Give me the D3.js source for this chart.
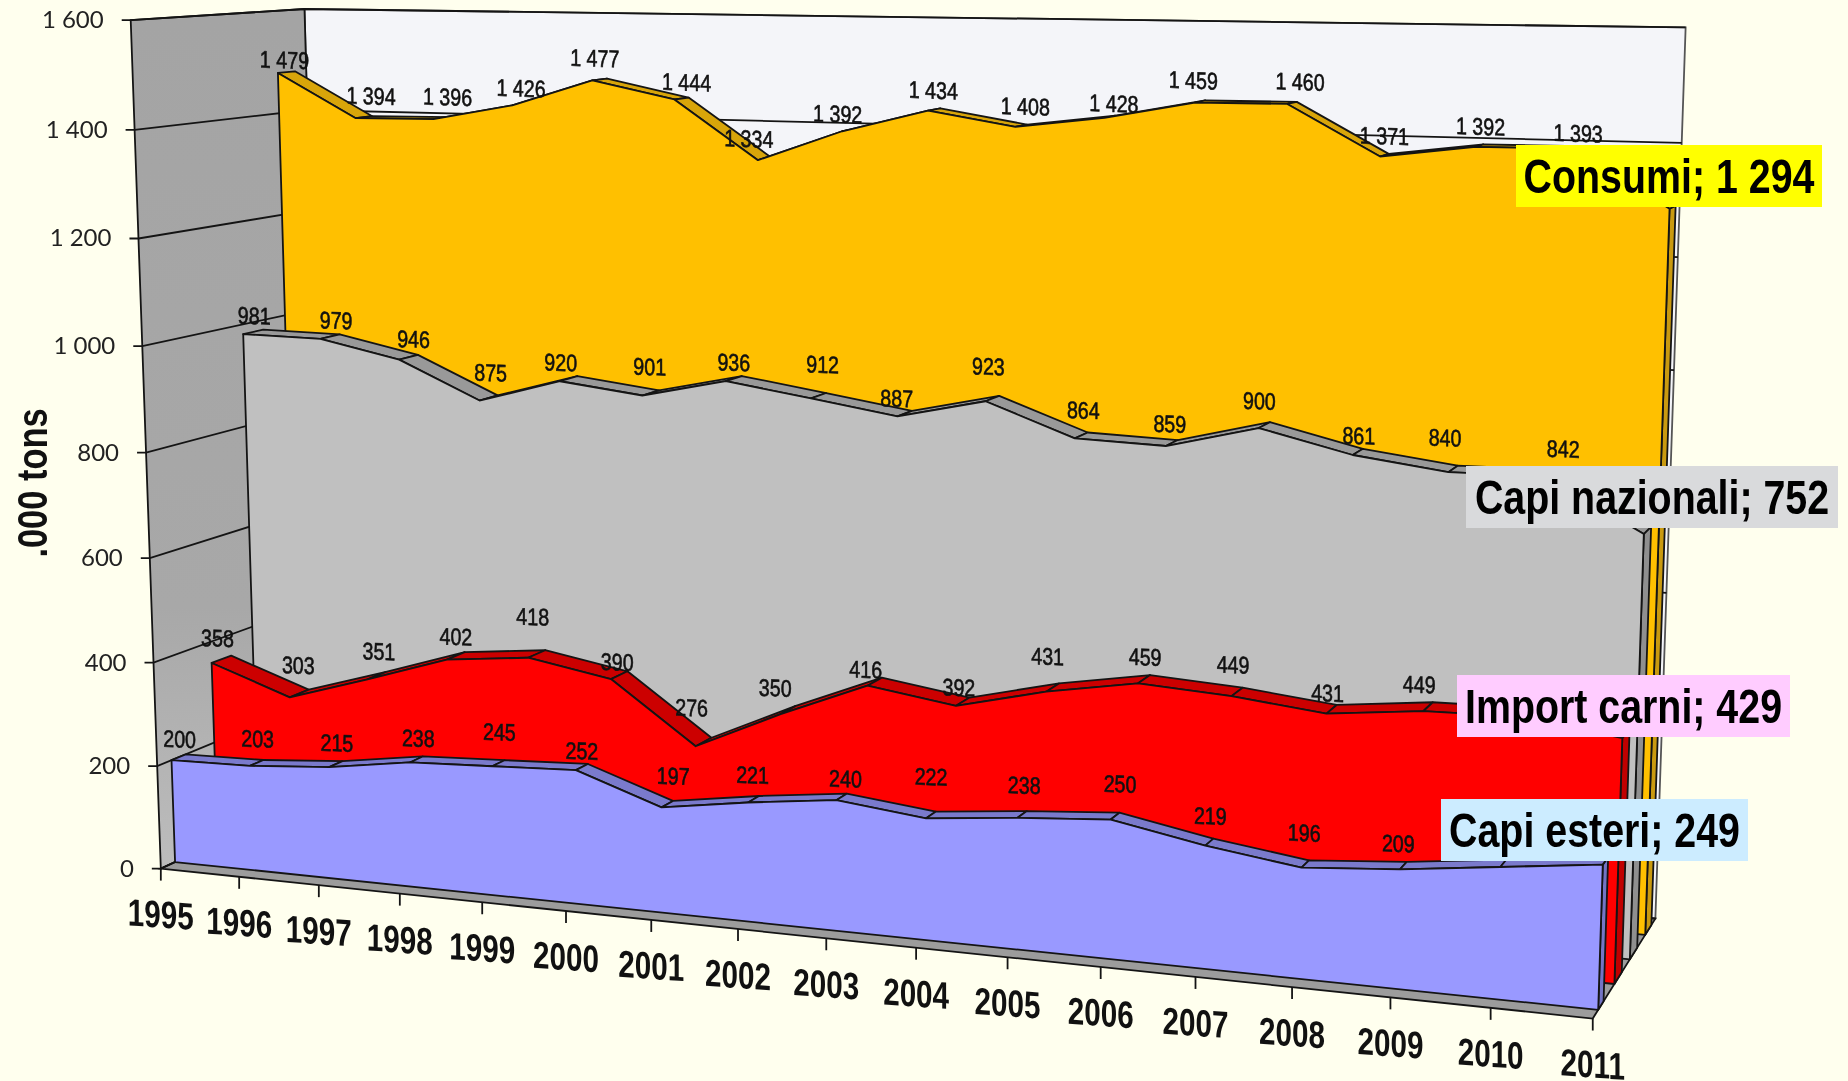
<!DOCTYPE html>
<html><head><meta charset="utf-8">
<style>html,body{margin:0;padding:0;background:#ffffee;overflow:hidden}svg{display:block;filter:blur(.45px)}</style>
<script src="https://cdn.jsdelivr.net/npm/d3@7"></script></head><body>
<svg id="c" width="1848" height="1081"></svg>
<script>
const years=[1995,1996,1997,1998,1999,2000,2001,2002,2003,2004,2005,2006,2007,2008,2009,2010,2011];
const consumi=[1479,1394,1396,1426,1477,1444,1334,1392,1434,1408,1428,1459,1460,1371,1392,1393,1294];
const capiNazionali=[981,979,946,875,920,901,936,912,887,923,864,859,900,861,840,842,752];
const importCarni=[358,303,351,402,418,390,276,350,416,392,431,459,449,431,449,452,429];
const capiEsteri=[200,203,215,238,245,252,197,221,240,222,238,250,219,196,209,229,249];
const valueTicks=[0,200,400,600,800,1000,1200,1400,1600];

// layout only: hand-placed label shifts of the original chart, year by year
const nudgeConsumi=[[-2,8],[7,-1],[6,-1],[1,4],[-5,-1],[5,4],[-16,0],[-11,4],[-1,1],[4,1],[4,7],[-7,-1],[8,-1],[0,1],[1,1],[2,6]];
const nudgeNazionali=[[1,4],[6,4],[5,2],[2,-5],[-8,4],[-1,-6],[0,4],[4,-11],[-8,5],[-4,-12],[2,-5],[-2,1],[-5,-4],[1,4],[-8,-11],[13,-4]];
const nudgeImport=[[-4,-1],[-1,-8],[2,-4],[0,1],[-4,-17],[-2,7],[-12,-14],[-13,-2],[-9,8],[-4,6],[-5,-11],[1,-2],[-4,-7],[-4,4],[-9,-2],[0,-5]];
const nudgeEsteri=[[1,2],[1,-4],[1,-1],[2,-1],[1,-11],[0,4],[6,-8],[-1,-4],[4,2],[0,-18],[2,-9],[5,-12],[1,-6],[-1,-11],[-5,-2],[0,0]];

const u=d3.scalePoint(years,[0,1]);
const v=d3.scaleLinear([0,1600],[0,1]);
// calibration of the 3D frame: unit-cube corner -> picture position
const frame=[
[0,0,0,161,867],[1,0,0,1594.6,1018],[0,1,0,130.5,21],[0,1,1,303.7,8.3],[1,1,1,1686,28],[1,0,1,1655,917],[0,0,1,327,794],
[1/16,0,0,239,877],[2/16,0,0,318.5,886],[3/16,0,0,399,895],[4/16,0,0,482,903],[5/16,0,0,566,912],[6/16,0,0,651.5,920],[14/16,0,0,1389.5,998],[15/16,0,0,1489.8,1008],
[0,.875,0,134.4,130],[0,.75,0,139,239],[0,.625,0,143,345],[0,.125,0,157.4,763]];
function solve(pts){
  const n=11,A=d3.range(n).map(()=>new Array(n+1).fill(0));
  const add=(r,b)=>{for(let i=0;i<n;i++){for(let j=0;j<n;j++)A[i][j]+=r[i]*r[j];A[i][n]+=r[i]*b;}};
  pts.forEach(([a,b,c,x,y])=>{const X=x/1000,Y=y/1000;
    add([a,b,c,1,0,0,0,0,-X*a,-X*b,-X*c],X);
    add([0,0,0,0,a,b,c,1,-Y*a,-Y*b,-Y*c],Y);});
  for(let i=0;i<n;i++){let m=i;for(let k=i+1;k<n;k++)if(Math.abs(A[k][i])>Math.abs(A[m][i]))m=k;[A[i],A[m]]=[A[m],A[i]];
    for(let k=0;k<n;k++){if(k===i)continue;const f=A[k][i]/A[i][i];for(let j=i;j<=n;j++)A[k][j]-=f*A[i][j];}}
  return A.map((r,i)=>r[n]/r[i]);
}
const P=solve(frame);
function pr(a,b,c){const d=P[8]*a+P[9]*b+P[10]*c+1;return [1000*(P[0]*a+P[1]*b+P[2]*c+P[3])/d,1000*(P[4]*a+P[5]*b+P[6]*c+P[7])/d];}
const pt=(yr,val,w)=>pr(u(yr),v(val),w);

const series=[
 {name:"Consumi",vals:consumi,nudge:nudgeConsumi,front:"#FFC000",top:"#D8A50A",side:"#C99A10",w0:.825,w1:.93,dy:-11.8},
 {name:"Capi nazionali",vals:capiNazionali,nudge:nudgeNazionali,front:"#C0C0C0",top:"#999999",side:"#8f8f8f",w0:.57,w1:.69,dy:-11.8},
 {name:"Import carni",vals:importCarni,nudge:nudgeImport,front:"#FF0000",top:"#CC0000",side:"#C00000",w0:.325,w1:.44,dy:-11.8},
 {name:"Capi esteri",vals:capiEsteri,nudge:nudgeEsteri,front:"#9999FF",top:"#7A7ACC",side:"#7474C4",w0:.08,w1:.16,dy:-11.8}];
const endLabels=[
 {t:"Consumi; 1 294",bg:"#FFFF00",x0:1516,x1:1822,y0:145,y1:207},
 {t:"Capi nazionali; 752",bg:"#D9DADC",x0:1466,x1:1838,y0:466,y1:528},
 {t:"Import carni; 429",bg:"#FFCCFF",x0:1457,x1:1790,y0:675,y1:737},
 {t:"Capi esteri; 249",bg:"#CCECFF",x0:1441,x1:1748,y0:799,y1:861}];

const svg=d3.select("#c");
const defs=svg.append("defs");
const g=defs.append("linearGradient").attr("id","wall").attr("gradientUnits","userSpaceOnUse").attr("x1",0).attr("x2",0).attr("y1",20).attr("y2",860);
g.append("stop").attr("offset",0).attr("stop-color","#a4a4a4");
g.append("stop").attr("offset",.7).attr("stop-color","#a8a8a8");
g.append("stop").attr("offset",1).attr("stop-color","#bcbcbc");
const line=d3.line();
const poly=(pts)=>line(pts)+"Z";
const ink="#141414";
const fmt=d3.formatLocale({decimal:",",thousands:" ",grouping:[3],currency:["",""]}).format(",d");
const yr0=years[0],yr1=years[years.length-1],vMax=valueTicks[valueTicks.length-1];

// walls and floor
svg.append("path").attr("d",poly([pt(yr0,0,1),pt(yr1,0,1),pt(yr1,vMax,1),pt(yr0,vMax,1)])).attr("fill","#f4f5f9").attr("stroke","#555").attr("stroke-width",1.8);
svg.append("path").attr("d",poly([pt(yr0,0,0),pt(yr0,0,1),pt(yr0,vMax,1),pt(yr0,vMax,0)])).attr("fill","url(#wall)").attr("stroke",ink).attr("stroke-width",1.8);
svg.append("path").attr("d",poly([pt(yr0,0,0),pt(yr1,0,0),pt(yr1,0,1),pt(yr0,0,1)])).attr("fill","#9c9c9c").attr("stroke",ink).attr("stroke-width",1.8);
// gridlines and value ticks
const grid=svg.append("g").attr("fill","none").attr("stroke",ink).attr("stroke-width",1.8);
grid.selectAll("path.g").data(valueTicks).join("path").attr("class","g")
 .attr("d",d=>{const a=pt(yr0,d,0),b=pt(yr0,d,1),c=pt(yr1,d,1);return line([[a[0]-9,a[1]],a,b,c]);});
grid.selectAll("path.t").data(years).join("path").attr("class","t")
 .attr("d",d=>{const a=pt(d,0,0);return line([a,[a[0],a[1]+12]]);});
svg.append("g").selectAll("text").data(valueTicks).join("text")
 .attr("x",d=>pt(yr0,d,0)[0]-27).attr("y",d=>pt(yr0,d,0)[1]+8)
 .attr("text-anchor","end").attr("font-family","Lato").attr("font-size",24).attr("fill","#222").text(fmt);

// series, back to front
series.forEach(s=>{
  const gr=svg.append("g").attr("stroke",ink).attr("stroke-width",1.8).attr("stroke-linejoin","round");
  const last=s.vals[s.vals.length-1];
  gr.append("path").attr("d",poly([pt(yr1,0,s.w0),pt(yr1,0,s.w1),pt(yr1,last,s.w1),pt(yr1,last,s.w0)])).attr("fill",s.side);
  gr.selectAll("path.top").data(d3.pairs(s.vals.map((d,i)=>[years[i],d]))).join("path").attr("class","top")
    .attr("d",([a,b])=>poly([pt(a[0],a[1],s.w0),pt(b[0],b[1],s.w0),pt(b[0],b[1],s.w1),pt(a[0],a[1],s.w1)])).attr("fill",s.top);
  const top=s.vals.map((d,i)=>pt(years[i],d,s.w0));
  gr.append("path").attr("d",poly([pt(yr0,0,s.w0),...top,pt(yr1,0,s.w0)])).attr("fill",s.front);
});
// data labels (the last year is carried by the end labels)
series.forEach(s=>{
  svg.append("g").selectAll("text").data(s.nudge.map((n,i)=>({yr:years[i],val:s.vals[i],n}))).join("text")
   .attr("transform",d=>{const p=pt(d.yr,d.val,(s.w0+s.w1)/2);return `translate(${p[0]+d.n[0]},${p[1]+s.dy+d.n[1]}) skewY(2) scale(.82,1)`;})
   .attr("text-anchor","middle").attr("font-family","Liberation Sans").attr("font-size",24)
   .attr("fill","#111").attr("stroke","#111").attr("stroke-width",.6).text(d=>fmt(d.val));
});
// category labels
svg.append("g").selectAll("text").data(years).join("text")
 .attr("transform",d=>{const p=pt(d,0,0);return `translate(${p[0]},${p[1]+59}) skewY(4) scale(.78,1)`;})
 .attr("text-anchor","middle").attr("font-family","Liberation Sans").attr("font-weight",700).attr("font-size",38).attr("fill","#111").text(d=>d);
// axis title
svg.append("text").attr("transform","translate(47,483) rotate(-90) scale(.82,1)").attr("text-anchor","middle")
 .attr("font-family","Liberation Sans").attr("font-weight",700).attr("font-size",42).attr("fill","#111").text(".000 tons");
// end labels
const eg=svg.append("g").selectAll("g").data(endLabels).join("g");
eg.append("rect").attr("x",d=>d.x0).attr("y",d=>d.y0).attr("width",d=>d.x1-d.x0).attr("height",d=>d.y1-d.y0).attr("fill",d=>d.bg);
eg.append("text").attr("transform",d=>`translate(${(d.x0+d.x1)/2},${(d.y0+d.y1)/2+17}) scale(.82,1)`).attr("text-anchor","middle")
 .attr("font-family","Liberation Sans").attr("font-weight",700).attr("font-size",48).attr("fill","#000").text(d=>d.t);
</script></body></html>
